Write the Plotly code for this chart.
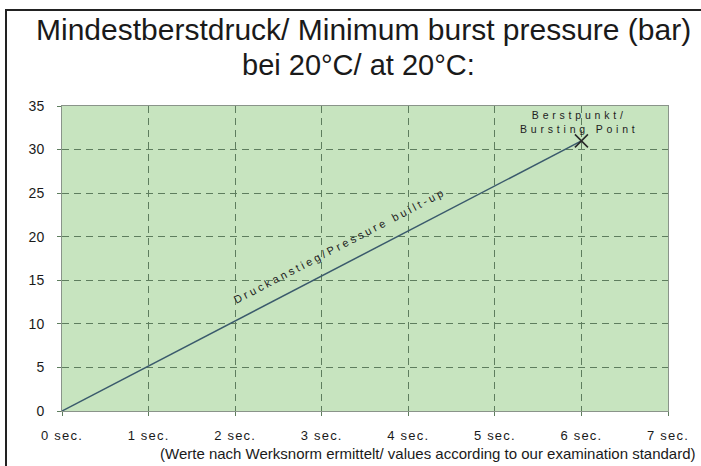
import plotly.graph_objects as go

# ---- data ----
time_sec = [0, 6]              # seconds
pressure_bar = [0, 31]         # bar
burst_time = [6]
burst_pressure = [31]
x_ticks = [0, 1, 2, 3, 4, 5, 6, 7]
x_ticktext = ["0 sec.", "1 sec.", "2 sec.", "3 sec.", "4 sec.", "5 sec.", "6 sec.", "7 sec."]
y_ticks = [0, 5, 10, 15, 20, 25, 30, 35]

title_line1 = "Mindestberstdruck/ Minimum burst pressure (bar)"
title_line2 = "bei 20°C/ at 20°C:"
footer = "(Werte nach Werksnorm ermittelt/ values according to our examination standard)"
line_label = "Druckanstieg/Pressure built-up"
burst_label = ["Berstpunkt/", "Bursting Point"]

FONT = "Liberation Sans, Arial, sans-serif"
GRID = "#5e7d5e"

# figure geometry (pixels)
W, H = 701, 466
L, R, T, B = 62, 33, 106, 55
PW, PH = W - L - R, H - T - B


def px_x(p):
    return (p - L) / PW


def px_y(p):
    return (H - B - p) / PH


def spaced(s, sp):
    return f'<span style="letter-spacing:{sp}px">{s}</span>'


fig = go.Figure()

fig.add_trace(go.Scatter(
    x=time_sec, y=pressure_bar, mode="lines",
    line=dict(color="#3a5a6c", width=1.5),
    hoverinfo="skip", showlegend=False,
))
fig.add_trace(go.Scatter(
    x=burst_time, y=burst_pressure, mode="markers",
    marker=dict(symbol="x-thin", size=13, line=dict(color="#2a2a2a", width=1.6)),
    hoverinfo="skip", showlegend=False,
))

label_x = 3.3
label_y = label_x * pressure_bar[1] / time_sec[1]

annotations = [
    dict(text=title_line1, xref="paper", yref="paper", x=px_x(363), y=px_y(29),
         xanchor="center", yanchor="middle", showarrow=False,
         font=dict(family=FONT, size=30, color="#1a1a1a")),
    dict(text=title_line2, xref="paper", yref="paper", x=px_x(358), y=px_y(65),
         xanchor="center", yanchor="middle", showarrow=False,
         font=dict(family=FONT, size=29, color="#1a1a1a")),
    dict(text=footer, xref="paper", yref="paper", x=px_x(698), y=px_y(453),
         xanchor="right", yanchor="middle", showarrow=False,
         font=dict(family=FONT, size=15, color="#1a1a1a")),
    dict(text=spaced(burst_label[0], 3.8) + "<br>" + spaced(burst_label[1], 3.8),
         x=burst_time[0], y=burst_pressure[0], xshift=-2, yshift=19,
         xanchor="center", yanchor="middle", showarrow=False,
         font=dict(family=FONT, size=10.5, color="#222222")),
    dict(text=spaced(line_label, 2.9),
         x=label_x, y=label_y, yshift=16.5, xshift=-8.6,
         textangle=-27.5, xanchor="center", yanchor="middle", showarrow=False,
         font=dict(family=FONT, size=11, color="#222222")),
]

fig.update_layout(
    width=W, height=H,
    margin=dict(l=L, r=R, t=T, b=B, pad=0),
    paper_bgcolor="white",
    plot_bgcolor="#c7e4bf",
    annotations=annotations,
    shapes=[dict(type="rect", xref="paper", yref="paper",
                 x0=px_x(6), x1=px_x(720), y0=px_y(480), y1=px_y(10),
                 line=dict(color="#222222", width=2), fillcolor="rgba(0,0,0,0)",
                 layer="above")],
    font=dict(family=FONT, color="#1a1a1a"),
)

fig.update_xaxes(
    range=[0, 7], tickvals=x_ticks,
    ticktext=[spaced(t, 1.2) for t in x_ticktext],
    showgrid=True, gridcolor=GRID, gridwidth=1, griddash="7px,5px",
    ticks="outside", ticklen=4, tickcolor=GRID,
    showline=True, linecolor="#8a948a", linewidth=1, mirror=True,
    zeroline=False, tickfont=dict(size=13, family=FONT, color="#1a1a1a"),
    ticklabelstandoff=8, fixedrange=True,
)
fig.update_yaxes(
    range=[0, 35], tickvals=y_ticks,
    showgrid=True, gridcolor=GRID, gridwidth=1, griddash="7px,5px",
    ticks="outside", ticklen=4, tickcolor=GRID,
    showline=True, linecolor="#8a948a", linewidth=1, mirror=True,
    zeroline=False, tickfont=dict(size=14, family=FONT, color="#1a1a1a"),
    ticklabelstandoff=10, fixedrange=True,
)

fig.write_html("out.html", config={"displayModeBar": False},
               post_script="document.body.style.margin='0';document.body.style.overflow='hidden';")
